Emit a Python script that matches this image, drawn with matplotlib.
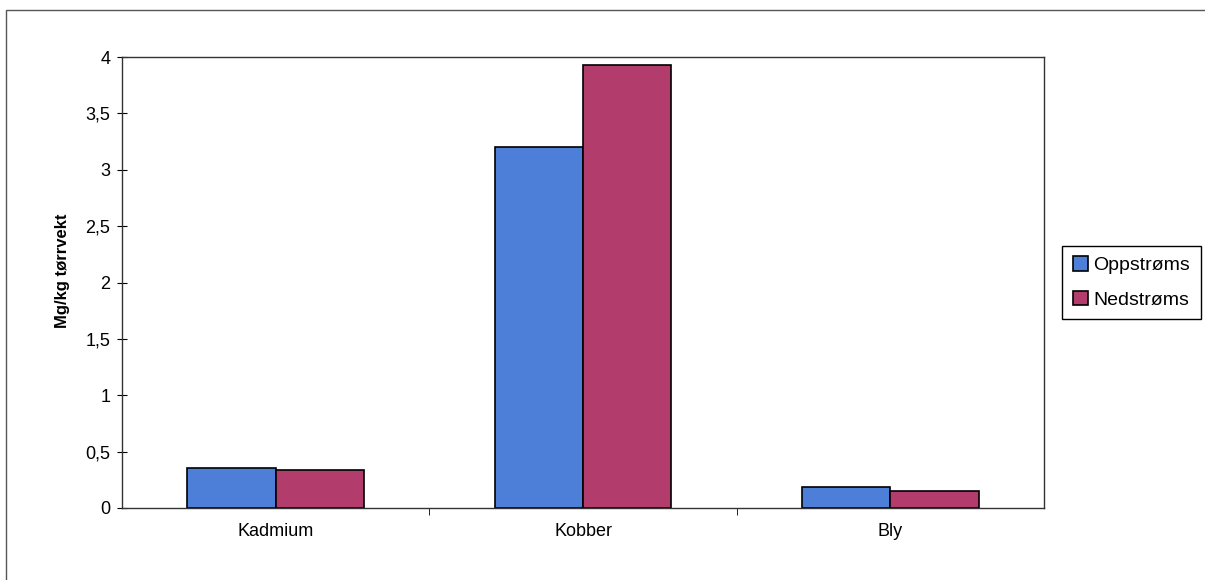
import numpy as np
import matplotlib
matplotlib.use("Agg")
import matplotlib.pyplot as plt
from matplotlib.patches import Rectangle
from matplotlib.ticker import FuncFormatter

plt.rcParams['font.family'] = ['Liberation Sans', 'DejaVu Sans']

metaller = ['Kadmium', 'Kobber', 'Bly']
oppstroms = [0.355, 3.20, 0.185]
nedstroms = [0.335, 3.93, 0.15]

blaa = '#4d7fd9'
rosa = '#b23c6c'

fig = plt.figure(figsize=(12.05, 5.8), dpi=100)
ax = fig.add_axes([122/1205, 1 - 508/580, (1044-122)/1205, (508-57)/580])

x = np.arange(len(metaller))
w = 0.287
ax.bar(x - w/2, oppstroms, w, color=blaa, edgecolor='black', linewidth=1.2, label='Oppstrøms')
ax.bar(x + w/2, nedstroms, w, color=rosa, edgecolor='black', linewidth=1.2, label='Nedstrøms')

ax.set_xlim(-0.5, 2.5)
ax.set_ylim(0, 4)
ax.set_yticks(np.arange(0, 4.01, 0.5))
ax.yaxis.set_major_formatter(FuncFormatter(lambda v, p: ('%g' % v).replace('.', ',')))
ax.set_xticks(x)
ax.set_xticklabels(metaller)
ax.set_xticks([0.5, 1.5], minor=True)
ax.tick_params(axis='x', which='major', length=0, labelsize=13, pad=11)
ax.tick_params(axis='x', which='minor', length=5, direction='out')
ax.tick_params(axis='y', length=7, direction='inout', labelsize=13, pad=5)
for s in ax.spines.values():
    s.set_linewidth(1.0)
    s.set_color('#333333')

ax.set_ylabel('Mg/kg tørrvekt', fontsize=12, fontweight='bold')
ax.yaxis.set_label_coords(-0.056, 0.525)

ax.legend(loc='center left', bbox_to_anchor=(1.02, 0.5), frameon=True, fancybox=False,
          edgecolor='black', fontsize=14, handlelength=0.75, handleheight=0.75,
          handletextpad=0.3, borderpad=0.55, labelspacing=0.85, borderaxespad=0,
          framealpha=1)

# ramme rundt hele figuren
fig.patches.append(Rectangle((6/1205, -0.01), 1.02, 1 - 10/580 + 0.01,
                             transform=fig.transFigure, fill=False,
                             edgecolor='#555555', linewidth=1.0))

fig.savefig('out.png', dpi=100)
